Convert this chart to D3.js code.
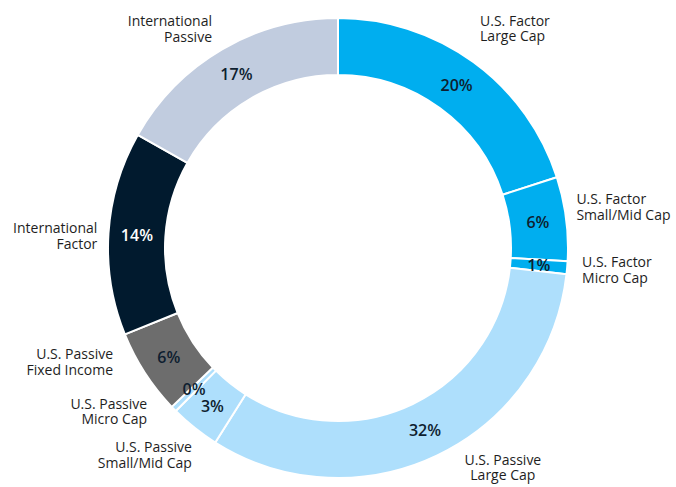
<!DOCTYPE html>
<html>
<head>
<meta charset="utf-8">
<script src="https://cdn.jsdelivr.net/npm/d3@7"></script>
<style>
  html, body { margin: 0; padding: 0; background: #ffffff; }
  svg { display: block; }
  text { font-family: "Open Sans", "Noto Sans", sans-serif; }
</style>
</head>
<body>
<svg id="chart" width="676" height="487"></svg>
<script>
// ---- data ----
const categories = [
  ["U.S. Factor", "Large Cap"],
  ["U.S. Factor", "Small/Mid Cap"],
  ["U.S. Factor", "Micro Cap"],
  ["U.S. Passive", "Large Cap"],
  ["U.S. Passive", "Small/Mid Cap"],
  ["U.S. Passive", "Micro Cap"],
  ["U.S. Passive", "Fixed Income"],
  ["International", "Factor"],
  ["International", "Passive"]
];
const values = [20.0, 5.9, 0.9, 32.1, 3.5, 0.4, 6.0, 14.3, 16.8];
const valueLabels = ["20%", "6%", "1%", "32%", "3%", "0%", "6%", "14%", "17%"];
const colors = ["#00AEEF", "#00AEEF", "#00AEEF", "#AEDFFC", "#AEDFFC", "#AEDFFC", "#6D6D6D", "#011A2E", "#C1CCDF"];
const valueLabelColors = ["#0E1E30", "#0E1E30", "#0E1E30", "#0E1E30", "#0E1E30", "#0E1E30", "#0E1E30", "#FFFFFF", "#0E1E30"];

// ---- layout (not data) ----
const cx = 338, cy = 248, outerR = 230, innerR = 173;
// per-label: angle shift (deg), anchor radius, text anchor
const labelLayout = [
  [-3.2, 262, "start"],
  [-2.6, 242, "start"],
  [0.1, 245, "start"],
  [-11.4, 274, "middle"],
  [-3.3, 253, "end"],
  [3.9, 251, "end"],
  [6.1, 252, "end"],
  [-0.7, 241, "end"],
  [0.4, 253, "end"]
];

const svg = d3.select("#chart");
const g = svg.append("g").attr("transform", `translate(${cx},${cy})`);

const pie = d3.pie().value(d => d).sort(null);
const arcs = pie(values);
const arc = d3.arc().innerRadius(innerR).outerRadius(outerR);
const midArc = d3.arc().innerRadius((innerR + outerR) / 2).outerRadius((innerR + outerR) / 2);

g.selectAll("path.slice")
  .data(arcs)
  .join("path")
  .attr("class", "slice")
  .attr("d", arc)
  .attr("fill", (d, i) => colors[i])
  .attr("stroke", "#ffffff")
  .attr("stroke-width", 2)
  .attr("stroke-linejoin", "round");

g.selectAll("text.pct")
  .data(arcs)
  .join("text")
  .attr("class", "pct")
  .attr("transform", d => `translate(${midArc.centroid(d)})`)
  .attr("text-anchor", "middle")
  .attr("dominant-baseline", "central")
  .attr("font-size", 16)
  .attr("font-weight", 600)
  .attr("fill", (d, i) => valueLabelColors[i])
  .text((d, i) => valueLabels[i]);

const lineGap = 15.5;
arcs.forEach((d, i) => {
  const [dA, r, anchor] = labelLayout[i];
  const a = (d.startAngle + d.endAngle) / 2 + dA * Math.PI / 180;
  const x = r * Math.sin(a), y = -r * Math.cos(a);
  const t = g.append("text")
    .attr("class", "cat")
    .attr("text-anchor", anchor)
    .attr("font-size", 14)
    .attr("fill", "#1E1E1E");
  categories[i].forEach((line, j) => {
    t.append("tspan")
      .attr("x", x)
      .attr("y", y + (j - 0.5) * lineGap)
      .attr("dominant-baseline", "central")
      .text(line);
  });
});
</script>
</body>
</html>
